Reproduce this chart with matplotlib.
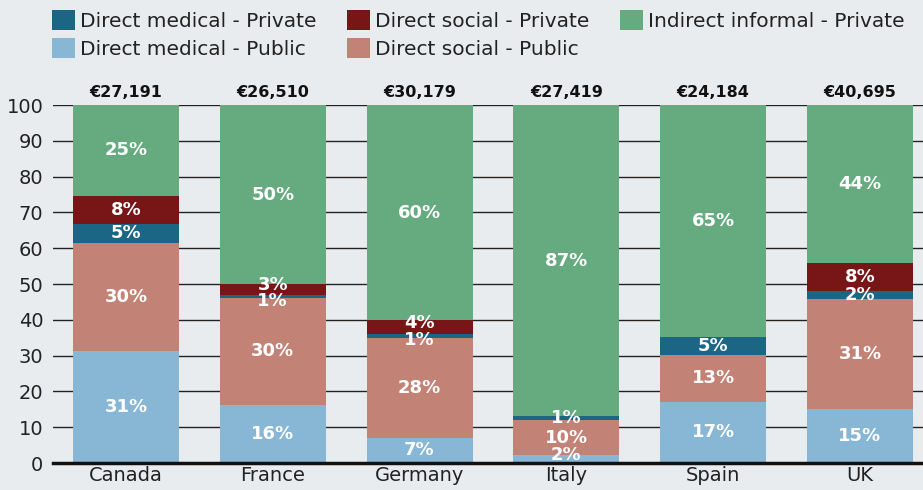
import matplotlib
matplotlib.use("Agg")
import matplotlib.pyplot as plt
import numpy as np

countries = ["Canada", "France", "Germany", "Italy", "Spain", "UK"]
totals = ["€27,191", "€26,510", "€30,179", "€27,419", "€24,184", "€40,695"]

med_public = [31.3, 16.2, 7.1, 2.2, 17.1, 15.1]
soc_public = [30.2, 30.0, 27.9, 9.8, 13.1, 30.6]
med_private = [5.3, 0.8, 1.1, 1.1, 5.0, 2.3]
soc_private = [7.8, 2.9, 3.8, 0.0, 0.0, 7.9]
informal = [25.4, 50.1, 60.1, 86.9, 64.8, 44.1]

series = [
    ("Direct medical - Public", med_public, "#88B6D5"),
    ("Direct social - Public", soc_public, "#C38276"),
    ("Direct medical - Private", med_private, "#1B6585"),
    ("Direct social - Private", soc_private, "#771517"),
    ("Indirect informal - Private", informal, "#66AA80"),
]

plt.rcParams['font.family'] = ['DejaVu Sans']
bg = "#E9ECEE"
fig = plt.figure(figsize=(9.23, 4.9), dpi=100, facecolor=bg)
ax = fig.add_axes([0.0574, 0.0551, 0.9426, 0.7306])
ax.set_facecolor(bg)

x = np.arange(len(countries))
bottom = np.zeros(len(countries))
handles = {}
labels_per_bar = [[] for _ in countries]
for name, vals, col in series:
    vals = np.array(vals)
    b = ax.bar(x, vals, 0.722, bottom=bottom, color=col, zorder=3, label=name)
    handles[name] = b
    for i, (v, bt) in enumerate(zip(vals, bottom)):
        if v > 0:
            labels_per_bar[i].append([bt + v / 2, f"{int(round(v))}%"])
    bottom += vals

# spread labels that would collide
min_sep = 4.6
for i, labs in enumerate(labels_per_bar):
    labs[0][0] = max(labs[0][0], 2.2)
    for _ in range(10):
        for j in range(1, len(labs)):
            gap = labs[j][0] - labs[j - 1][0]
            if gap < min_sep:
                mid = (labs[j][0] + labs[j - 1][0]) / 2
                labs[j - 1][0] = mid - min_sep / 2
                labs[j][0] = mid + min_sep / 2
        labs[0][0] = max(labs[0][0], 2.2)
    for yv, t in labs:
        ax.text(x[i], yv, t, ha="center", va="center", color="white",
                fontsize=13, fontweight="bold", zorder=5)

for xi, t in zip(x, totals):
    ax.text(xi, 101.3, t, ha="center", va="bottom", fontsize=11.5,
            fontweight="bold", color="#111111")

ax.set_xlim(-0.497, 5.43)
ax.set_ylim(0, 100)
ax.set_yticks(np.arange(0, 101, 10))
ax.set_xticks(x)
ax.set_xticklabels(countries)
ax.tick_params(axis="both", length=0, labelsize=14, colors="#222222")
ax.tick_params(axis="y", pad=7)
ax.tick_params(axis="x", pad=2)
ax.yaxis.grid(True, color="#222222", linewidth=1.0, zorder=1)
ax.set_axisbelow(True)
for s in ax.spines.values():
    s.set_visible(False)
ax.axhline(0, color="#111111", linewidth=2.5, zorder=4, clip_on=False)

order = ["Direct medical - Private", "Direct medical - Public",
         "Direct social - Private", "Direct social - Public",
         "Indirect informal - Private"]
leg = fig.legend([handles[n] for n in order], order, ncol=3, loc="upper left",
                 bbox_to_anchor=(52 / 923, 1 - 10 / 490), frameon=False, fontsize=14.5,
                 handlelength=1.15, handleheight=1.15, handletextpad=0.25,
                 columnspacing=1.5, labelspacing=0.35, borderpad=0, borderaxespad=0,
                 labelcolor="#222222")

fig.savefig("out.png", dpi=100, facecolor=bg)
